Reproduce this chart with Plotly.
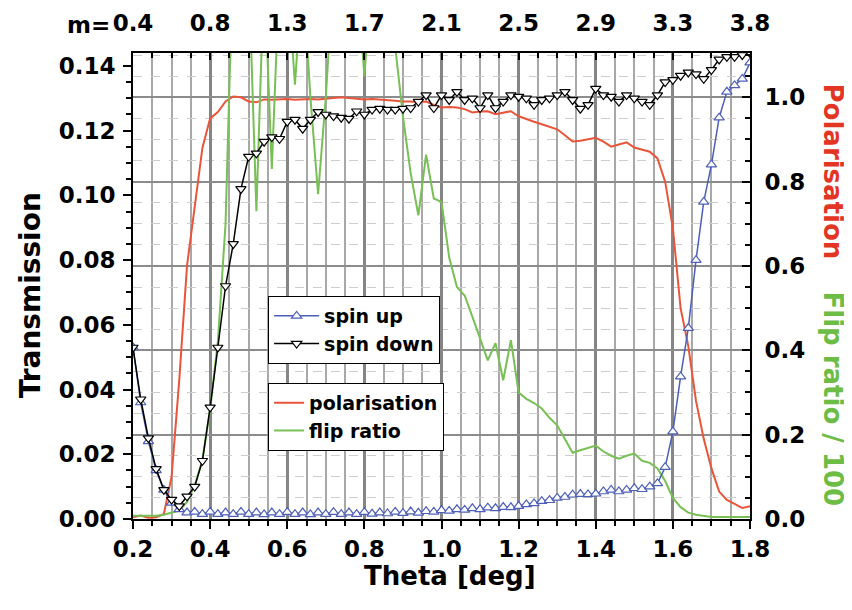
import plotly.graph_objects as go

theta = [0.20, 0.22, 0.24, 0.26, 0.28, 0.30, 0.32, 0.34, 0.36, 0.38,
         0.40, 0.42, 0.44, 0.46, 0.48, 0.50, 0.52, 0.54, 0.56, 0.58,
         0.60, 0.62, 0.64, 0.66, 0.68, 0.70, 0.72, 0.74, 0.76, 0.78,
         0.80, 0.82, 0.84, 0.86, 0.88, 0.90, 0.92, 0.94, 0.96, 0.98,
         1.00, 1.02, 1.04, 1.06, 1.08, 1.10, 1.12, 1.14, 1.16, 1.18,
         1.20, 1.22, 1.24, 1.26, 1.28, 1.30, 1.32, 1.34, 1.36, 1.38,
         1.40, 1.42, 1.44, 1.46, 1.48, 1.50, 1.52, 1.54, 1.56, 1.58,
         1.60, 1.62, 1.64, 1.66, 1.68, 1.70, 1.72, 1.74, 1.76, 1.78, 1.80]

spin_up = [0.053, 0.036, 0.024, 0.015, 0.009, 0.005, 0.003, 0.002, 0.0022, 0.0015,
           0.0022, 0.0015, 0.002, 0.0015, 0.0022, 0.0015, 0.002, 0.0014, 0.002, 0.0015,
           0.0021, 0.0015, 0.002, 0.0014, 0.002, 0.0015, 0.0021, 0.0015, 0.002, 0.0015,
           0.0021, 0.0016, 0.002, 0.0017, 0.0022, 0.0018, 0.0023, 0.0019, 0.0024, 0.0022,
           0.0027, 0.0025, 0.003, 0.0028, 0.0033, 0.003, 0.0035, 0.0033, 0.0037, 0.0036,
           0.004, 0.0045, 0.0048, 0.0055, 0.0058, 0.0065, 0.0068, 0.0075, 0.0077, 0.0076,
           0.0078, 0.0085, 0.009, 0.0085, 0.009, 0.0095, 0.0092, 0.010, 0.011, 0.016,
           0.027, 0.044, 0.059, 0.080, 0.098, 0.1095, 0.124, 0.132, 0.134, 0.136, 0.141]

spin_down = [0.053, 0.037, 0.025, 0.0155, 0.009, 0.006, 0.004, 0.007, 0.010, 0.018,
             0.0345, 0.053, 0.072, 0.085, 0.102, 0.112, 0.113, 0.1166, 0.118, 0.1175,
             0.1228, 0.1234, 0.1206, 0.1234, 0.1258, 0.125, 0.1245, 0.124, 0.1237, 0.126,
             0.125, 0.1265, 0.1268, 0.1265, 0.1265, 0.1268, 0.127, 0.129, 0.131, 0.127,
             0.131, 0.1295, 0.132, 0.1295, 0.130, 0.127, 0.131, 0.127, 0.129, 0.131,
             0.1305, 0.130, 0.128, 0.1295, 0.130, 0.131, 0.132, 0.1295, 0.1268, 0.128,
             0.133, 0.131, 0.1305, 0.129, 0.131, 0.130, 0.129, 0.128, 0.131, 0.135,
             0.1357, 0.137, 0.138, 0.1375, 0.136, 0.1388, 0.142, 0.1428, 0.1428, 0.1434, 0.144]

polarisation = [0.004, 0.008, 0.003, 0.004, 0.012, 0.10, 0.33, 0.60, 0.74, 0.88,
                0.95, 0.965, 0.99, 1.002, 1.0, 0.99, 0.988, 0.995, 0.994, 0.995,
                0.996, 0.994, 0.995, 0.996, 0.995, 0.997, 0.998, 1.0, 0.998, 0.997,
                0.995, 0.996, 0.995, 0.993, 0.992, 0.99, 0.99, 0.988, 0.99, 0.982,
                0.976, 0.977, 0.976, 0.972, 0.964, 0.966, 0.967, 0.96, 0.963, 0.967,
                0.955, 0.948, 0.942, 0.936, 0.93, 0.924, 0.91, 0.895, 0.897, 0.90,
                0.904, 0.895, 0.883, 0.888, 0.893, 0.881, 0.876, 0.871, 0.855, 0.80,
                0.69, 0.50, 0.41, 0.28, 0.19, 0.12, 0.065, 0.045, 0.036, 0.026, 0.03]

flip_ratio = [0.008, 0.008, 0.007, 0.008, 0.01, 0.015, 0.02, 0.04, 0.08, 0.14,
              0.26, 0.42, 0.70, 1.35, 1.35, 1.3, 0.73, 1.3, 0.83, 1.3,
              1.3, 1.03, 1.3, 1.0, 0.77, 1.0, 1.3, 1.3, 1.3, 1.3,
              1.05, 1.3, 1.3, 1.3, 1.12, 0.955, 0.82, 0.72, 0.864, 0.76,
              0.752, 0.62, 0.55, 0.53, 0.48, 0.43, 0.376, 0.417, 0.329, 0.424,
              0.30, 0.285, 0.275, 0.262, 0.24, 0.222, 0.19, 0.157, 0.163, 0.169,
              0.174, 0.16, 0.15, 0.143, 0.15, 0.155, 0.138, 0.133, 0.12, 0.09,
              0.05, 0.028, 0.015, 0.01, 0.007, 0.005, 0.005, 0.005, 0.005, 0.005, 0.005]

x_ticks = [0.2, 0.4, 0.6, 0.8, 1.0, 1.2, 1.4, 1.6, 1.8]
m_labels = ["0.4", "0.8", "1.3", "1.7", "2.1", "2.5", "2.9", "3.3", "3.8"]

FONT = "DejaVu Sans"
BLUE = "#4d5fb8"
RED = "#e8553a"
GREEN = "#78bf55"

fig = go.Figure()

fig.add_trace(go.Scatter(x=theta, y=polarisation, mode="lines", name="polarisation",
                         line=dict(color=RED, width=2), xaxis="x", yaxis="y",
                         legend="legend2"))
fig.add_trace(go.Scatter(x=theta, y=flip_ratio, mode="lines", name="flip ratio",
                         line=dict(color=GREEN, width=2), xaxis="x", yaxis="y",
                         legend="legend2"))
fig.add_trace(go.Scatter(x=theta, y=spin_up, mode="lines+markers", name="spin up",
                         line=dict(color=BLUE, width=1.5),
                         marker=dict(symbol="triangle-up", size=9, color="white",
                                     line=dict(color=BLUE, width=1.2)),
                         xaxis="x", yaxis="y2", legend="legend"))
fig.add_trace(go.Scatter(x=theta, y=spin_down, mode="lines+markers", name="spin down",
                         line=dict(color="black", width=1.5),
                         marker=dict(symbol="triangle-down", size=9, color="white",
                                     line=dict(color="black", width=1.2)),
                         xaxis="x", yaxis="y2", legend="legend"))
# carrier for top m-axis
fig.add_trace(go.Scatter(x=x_ticks, y=[None] * len(x_ticks), mode="lines",
                         showlegend=False, hoverinfo="skip", xaxis="x2", yaxis="y"))

tickfont = dict(family=FONT, size=23, color="black", weight="bold")

# the page body adds an 8px offset, so the figure is 8px smaller than the window
fig.update_layout(
    width=844, height=602,
    margin=dict(l=125, r=102, t=45, b=91),
    paper_bgcolor="white", plot_bgcolor="white",
    showlegend=True,
    xaxis=dict(range=[0.2, 1.8], tickmode="array", tickvals=x_ticks, automargin=False,
               tickformat=".1f", ticks="outside", ticklen=8, tickwidth=1.5,
               tickcolor="black", showline=True, linecolor="black", linewidth=2,
               showgrid=True, gridcolor="#858585", gridwidth=2.5, zeroline=False,
               tickfont=tickfont, ticklabelstandoff=0,
               minor=dict(tick0=0.2, dtick=0.05, ticks="outside", ticklen=5,
                          tickcolor="black", showgrid=True, gridcolor="#a8a8a8",
                          gridwidth=2)),
    xaxis2=dict(range=[0.2, 1.8], overlaying="x", side="top", anchor="y",
                automargin=False,
                tickmode="array", tickvals=x_ticks, ticktext=m_labels,
                ticks="inside", ticklen=7, tickwidth=1.5, tickcolor="black",
                showline=True, linecolor="black", linewidth=2, showgrid=False,
                zeroline=False, tickfont=tickfont, ticklabelstandoff=11,
                minor=dict(tick0=0.2, dtick=0.05, ticks="inside", ticklen=5,
                           tickcolor="black", showgrid=False)),
    yaxis=dict(range=[0, 1.105], side="right", anchor="x", dtick=0.2, tick0=0,
               automargin=False,
               tickformat=".1f", ticks="inside", ticklen=8, tickwidth=1.5,
               tickcolor="black", showline=True, linecolor="black", linewidth=2,
               showgrid=True, gridcolor="#8c8c8c", gridwidth=2, zeroline=False,
               tickfont=tickfont, ticklabelstandoff=8,
               minor=dict(tick0=0, dtick=0.05, ticks="inside", ticklen=5,
                          tickcolor="black", showgrid=True, gridcolor="#cdcdcd",
                          gridwidth=1, griddash="dash")),
    yaxis2=dict(range=[0, 0.144], overlaying="y", side="left", anchor="x",
                automargin=False,
                dtick=0.02, tick0=0, tickformat=".2f", ticks="outside", ticklen=8,
                tickwidth=1.5, tickcolor="black", showline=True, linecolor="black",
                linewidth=2, showgrid=False, zeroline=False, tickfont=tickfont,
                ticklabelstandoff=3,
                minor=dict(tick0=0, dtick=0.005, ticks="outside", ticklen=5,
                           tickcolor="black", showgrid=False)),
    legend=dict(x=0.219, y=0.4785, xanchor="left", yanchor="top",
                bgcolor="white", bordercolor="black", borderwidth=1,
                font=dict(family=FONT, size=19, color="black", weight="bold"),
                tracegroupgap=0, itemwidth=45),
    legend2=dict(x=0.219, y=0.292, xanchor="left", yanchor="top",
                 bgcolor="white", bordercolor="black", borderwidth=1,
                 font=dict(family=FONT, size=19, color="black", weight="bold"),
                 tracegroupgap=0, itemwidth=30),
)

fig.add_annotation(text="Theta [deg]", xref="paper", yref="paper", x=0.514, y=0,
                   yshift=-57, xanchor="center", yanchor="middle", showarrow=False,
                   font=dict(family=FONT, size=26, color="black", weight="bold"))
fig.add_annotation(text="Transmission", xref="paper", yref="paper", x=0, y=0.48,
                   xshift=-103, xanchor="center", yanchor="middle", showarrow=False,
                   textangle=-90,
                   font=dict(family=FONT, size=28, color="black", weight="bold"))
fig.add_annotation(text="Polarisation", xref="paper", yref="paper", x=1, y=0.7457,
                   xshift=83, xanchor="center", yanchor="middle", showarrow=False,
                   textangle=90,
                   font=dict(family=FONT, size=26, color="#e33524", weight="bold"))
fig.add_annotation(text="Flip ratio / 100", xref="paper", yref="paper", x=1, y=0.2586,
                   xshift=83, xanchor="center", yanchor="middle", showarrow=False,
                   textangle=90,
                   font=dict(family=FONT, size=26, color="#6cbc45", weight="bold"))
fig.add_annotation(text="m=", xref="x", yref="paper", x=x_ticks[0], y=1,
                   xshift=-21, yshift=28, xanchor="right", yanchor="middle",
                   showarrow=False,
                   font=dict(family=FONT, size=23, color="black", weight="bold"))

fig.write_html("out.html")
